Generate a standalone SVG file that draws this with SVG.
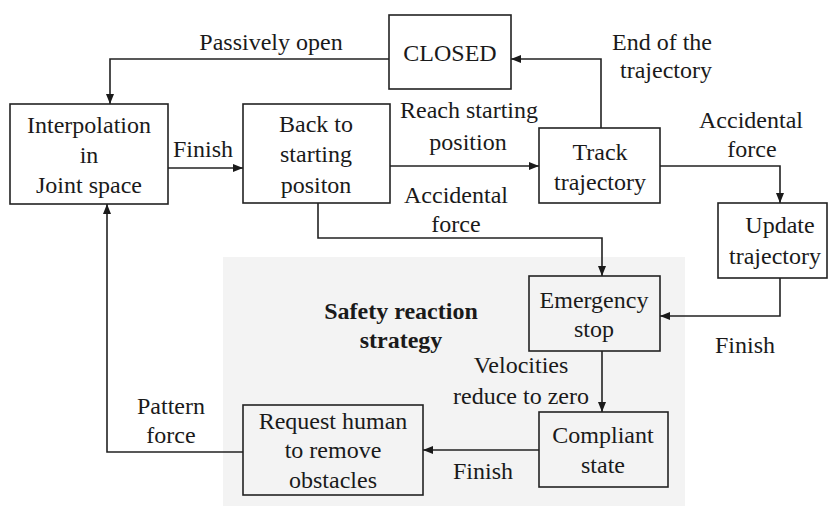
<svg xmlns="http://www.w3.org/2000/svg" width="830" height="506" viewBox="0 0 830 506">
<style>
.box{fill:none;stroke:#222;stroke-width:1.6}
.ln{fill:none;stroke:#222;stroke-width:1.6}
.t text{font-size:24px;fill:#1a1a1a;text-anchor:middle}
.b{font-weight:bold}
</style>
<defs>
<marker id="ar" viewBox="0 0 10 10" refX="10" refY="5" markerWidth="10" markerHeight="10" markerUnits="userSpaceOnUse" orient="auto">
<path d="M0,1 L10,5 L0,9 Z" fill="#1a1a1a"/>
</marker>
</defs>
<rect x="0" y="0" width="830" height="506" fill="#fff"/>
<g class="t" font-family="Liberation Serif, Times New Roman, serif">
<g id="safety-region">
<rect x="223" y="257" width="462" height="249" fill="#f3f3f3"/>
<text class="b" x="401" y="319">Safety reaction</text>
<text class="b" x="401" y="348">strategy</text>
</g>
<g id="connectors">
<polyline class="ln" points="389,59 110,59 110,104" marker-end="url(#ar)"/>
<text x="271" y="50">Passively open</text>
<line class="ln" x1="168" y1="168" x2="243" y2="168" marker-end="url(#ar)"/>
<text x="203" y="157">Finish</text>
<line class="ln" x1="390" y1="166" x2="539" y2="166" marker-end="url(#ar)"/>
<text x="469" y="118">Reach starting</text>
<text x="468" y="150">position</text>
<polyline class="ln" points="318,203 318,238 602,238 602,276" marker-end="url(#ar)"/>
<text x="456" y="203">Accidental</text>
<text x="456" y="232">force</text>
<polyline class="ln" points="601,128 601,59 511,59" marker-end="url(#ar)"/>
<text x="662" y="50">End of the</text>
<text x="666" y="78">trajectory</text>
<polyline class="ln" points="660,166 780,166 780,203" marker-end="url(#ar)"/>
<text x="751" y="128">Accidental</text>
<text x="752" y="157">force</text>
<polyline class="ln" points="780,278 780,316 660,316" marker-end="url(#ar)"/>
<text x="745" y="353">Finish</text>
<line class="ln" x1="602" y1="351" x2="602" y2="412" marker-end="url(#ar)"/>
<text x="521" y="373">Velocities</text>
<text x="521" y="404">reduce to zero</text>
<line class="ln" x1="539" y1="450" x2="423" y2="450" marker-end="url(#ar)"/>
<text x="483" y="479">Finish</text>
<polyline class="ln" points="243,452 107,452 107,204" marker-end="url(#ar)"/>
<text x="171" y="414">Pattern</text>
<text x="171" y="443">force</text>
</g>
<g id="interpolation">
<rect class="box" x="10" y="104" width="158" height="100"/>
<text x="89" y="133">Interpolation</text>
<text x="89" y="163">in</text>
<text x="89" y="193">Joint space</text>
</g>
<g id="back-to-start">
<rect class="box" x="243" y="104" width="147" height="99"/>
<text x="316" y="132">Back to</text>
<text x="316" y="162">starting</text>
<text x="316" y="193">positon</text>
</g>
<g id="closed">
<rect class="box" x="389" y="15" width="122" height="74"/>
<text x="450" y="61">CLOSED</text>
</g>
<g id="track">
<rect class="box" x="539" y="128" width="121" height="75"/>
<text x="600" y="160">Track</text>
<text x="600" y="190">trajectory</text>
</g>
<g id="update">
<rect class="box" x="718" y="203" width="109" height="75"/>
<text x="780" y="233">Update</text>
<text x="775" y="264">trajectory</text>
</g>
<g id="emergency">
<rect class="box" x="529" y="276" width="131" height="75"/>
<text x="594" y="308">Emergency</text>
<text x="594" y="337">stop</text>
</g>
<g id="compliant">
<rect class="box" x="539" y="412" width="129" height="75"/>
<text x="603" y="443">Compliant</text>
<text x="603" y="473">state</text>
</g>
<g id="request">
<rect class="box" x="243" y="405" width="180" height="90"/>
<text x="333" y="429">Request human</text>
<text x="333" y="458">to remove</text>
<text x="333" y="488">obstacles</text>
</g>
</g>
</svg>
